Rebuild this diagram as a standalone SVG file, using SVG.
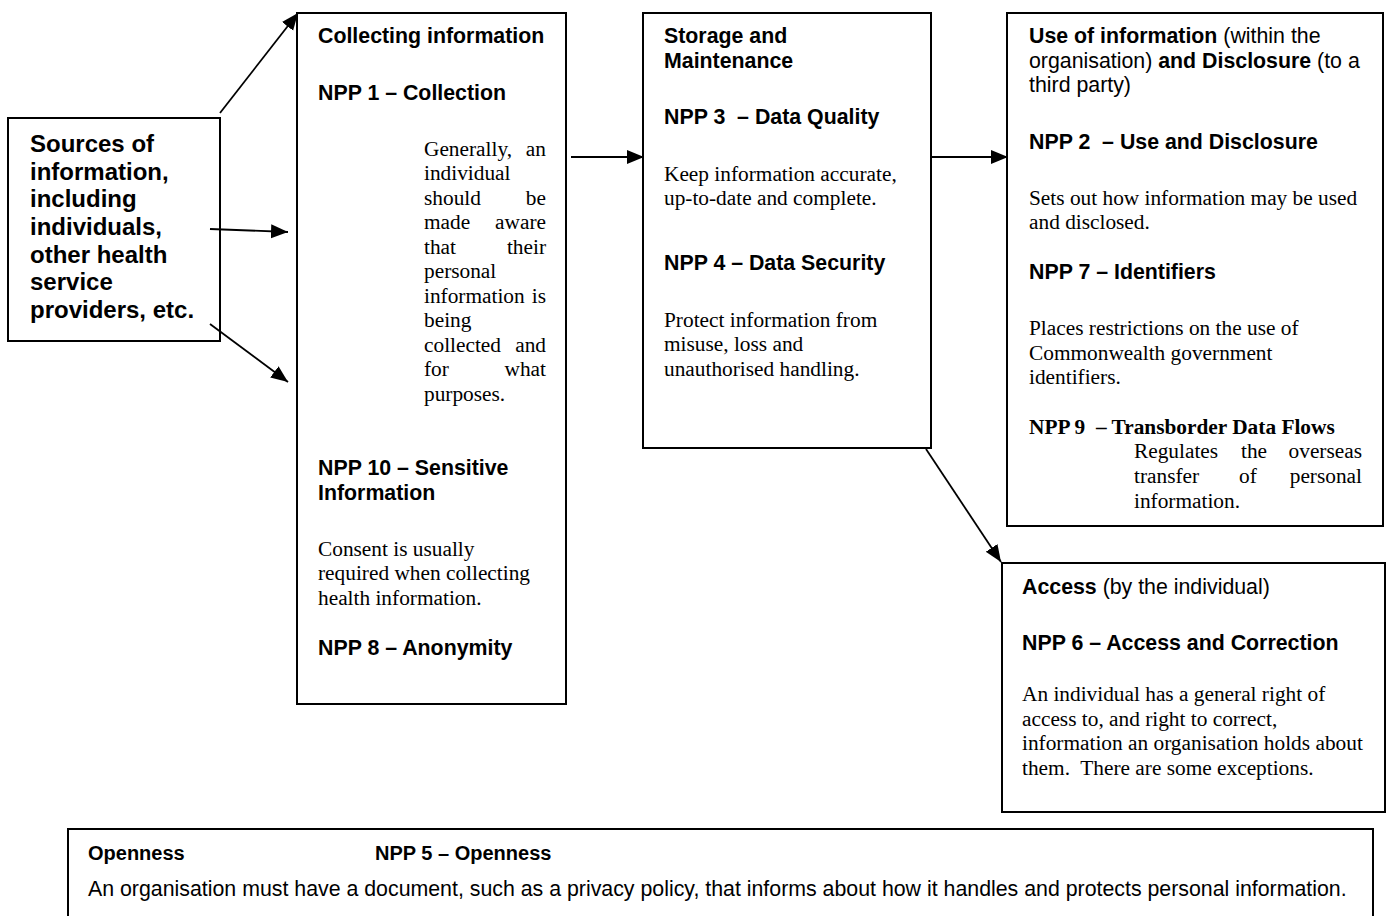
<svg xmlns="http://www.w3.org/2000/svg" width="1388" height="916" viewBox="0 0 1388 916">
<style>
.box{fill:#fff;stroke:#000;stroke-width:2}
.h{font-family:"Liberation Sans",Arial,sans-serif;font-weight:bold;font-size:21.33px;fill:#000}
.hn{font-family:"Liberation Sans",Arial,sans-serif;font-size:21.33px;fill:#000}
.b{font-weight:bold}
.n{font-weight:normal}
.t{font-family:"Liberation Serif","Times New Roman",serif;font-size:21.33px;fill:#000}
.tb{font-family:"Liberation Serif","Times New Roman",serif;font-size:21.33px;font-weight:bold;fill:#000}
.src{font-family:"Liberation Sans",Arial,sans-serif;font-weight:bold;font-size:24px;fill:#000}
.oh{font-family:"Liberation Sans",Arial,sans-serif;font-size:20px;font-weight:bold;fill:#000}
.o{font-family:"Liberation Sans",Arial,sans-serif;font-size:21.33px;fill:#000}
.e{text-anchor:end}
.m{text-anchor:middle}
.c{fill:none;stroke:#000;stroke-width:1.8}
</style>
<defs>
<marker id="arr" markerUnits="userSpaceOnUse" markerWidth="20" markerHeight="16" refX="17" refY="7" orient="auto">
<path d="M0,0 L17,7 L0,14 z" fill="#000"/>
</marker>
</defs>

<g id="sources">
<rect class="box" x="8" y="118" width="212" height="223"/>
<text class="src" x="30" y="152">Sources of</text>
<text class="src" x="30" y="180">information,</text>
<text class="src" x="30" y="207">including</text>
<text class="src" x="30" y="235">individuals,</text>
<text class="src" x="30" y="263">other health</text>
<text class="src" x="30" y="290">service</text>
<text class="src" x="30" y="318">providers, etc.</text>
</g>

<g id="collecting">
<rect class="box" x="297" y="13" width="269" height="691"/>
<text class="h" x="318" y="43">Collecting information</text>
<text class="h" x="318" y="100">NPP 1 – Collection</text>
<text class="t" x="424" y="156">Generally,</text><text class="t e" x="546" y="156">an</text>
<text class="t" x="424" y="180">individual</text>
<text class="t" x="424" y="205">should</text><text class="t e" x="546" y="205">be</text>
<text class="t" x="424" y="229">made</text><text class="t e" x="546" y="229">aware</text>
<text class="t" x="424" y="254">that</text><text class="t e" x="546" y="254">their</text>
<text class="t" x="424" y="278">personal</text>
<text class="t" x="424" y="303">information</text><text class="t e" x="546" y="303">is</text>
<text class="t" x="424" y="327">being</text>
<text class="t" x="424" y="352">collected</text><text class="t e" x="546" y="352">and</text>
<text class="t" x="424" y="376">for</text><text class="t e" x="546" y="376">what</text>
<text class="t" x="424" y="401">purposes.</text>
<text class="h" x="318" y="475">NPP 10 – Sensitive</text>
<text class="h" x="318" y="500">Information</text>
<text class="t" x="318" y="556">Consent is usually</text>
<text class="t" x="318" y="580">required when collecting</text>
<text class="t" x="318" y="605">health information.</text>
<text class="h" x="318" y="655">NPP 8 – Anonymity</text>
</g>

<g id="storage">
<rect class="box" x="643" y="13" width="288" height="435"/>
<text class="h" x="664" y="43">Storage and</text>
<text class="h" x="664" y="68">Maintenance</text>
<text class="h" x="664" y="124" xml:space="preserve">NPP 3  – Data Quality</text>
<text class="t" x="664" y="181">Keep information accurate,</text>
<text class="t" x="664" y="205">up-to-date and complete.</text>
<text class="h" x="664" y="270">NPP 4 – Data Security</text>
<text class="t" x="664" y="327">Protect information from</text>
<text class="t" x="664" y="351">misuse, loss and</text>
<text class="t" x="664" y="376">unauthorised handling.</text>
</g>

<g id="use">
<rect class="box" x="1007" y="13" width="376" height="513"/>
<text class="hn" x="1029" y="43"><tspan class="b">Use of information</tspan> (within the</text>
<text class="hn" x="1029" y="68">organisation) <tspan class="b">and Disclosure</tspan> (to a</text>
<text class="hn" x="1029" y="92">third party)</text>
<text class="h" x="1029" y="149" xml:space="preserve">NPP 2  – Use and Disclosure</text>
<text class="t" x="1029" y="205">Sets out how information may be used</text>
<text class="t" x="1029" y="229">and disclosed.</text>
<text class="h" x="1029" y="279">NPP 7 – Identifiers</text>
<text class="t" x="1029" y="335">Places restrictions on the use of</text>
<text class="t" x="1029" y="360">Commonwealth government</text>
<text class="t" x="1029" y="384">identifiers.</text>
<text class="tb" x="1029" y="434" xml:space="preserve">NPP 9  – Transborder Data Flows</text>
<text class="t" x="1134" y="458">Regulates</text><text class="t m" x="1254" y="458">the</text><text class="t e" x="1362" y="458">overseas</text>
<text class="t" x="1134" y="483">transfer</text><text class="t m" x="1248" y="483">of</text><text class="t e" x="1362" y="483">personal</text>
<text class="t" x="1134" y="508">information.</text>
</g>

<g id="access">
<rect class="box" x="1002" y="563" width="383" height="249"/>
<text class="hn" x="1022" y="594"><tspan class="b">Access</tspan> (by the individual)</text>
<text class="h" x="1022" y="650">NPP 6 – Access and Correction</text>
<text class="t" x="1022" y="701">An individual has a general right of</text>
<text class="t" x="1022" y="726">access to, and right to correct,</text>
<text class="t" x="1022" y="750">information an organisation holds about</text>
<text class="t" xml:space="preserve" x="1022" y="775">them.  There are some exceptions.</text>
</g>

<g id="openness">
<rect class="box" x="68" y="829" width="1305" height="100"/>
<text class="oh" x="88" y="860">Openness</text>
<text class="oh" x="375" y="860">NPP 5 – Openness</text>
<text class="o" x="88" y="896">An organisation must have a document, such as a privacy policy, that informs about how it handles and protects personal information.</text>
</g>

<g id="connectors">
<line class="c" x1="220" y1="113" x2="298" y2="13" marker-end="url(#arr)"/>
<line class="c" x1="210" y1="229" x2="288" y2="232" marker-end="url(#arr)"/>
<line class="c" x1="210" y1="324" x2="288" y2="382" marker-end="url(#arr)"/>
<line class="c" x1="571" y1="157" x2="644" y2="157" marker-end="url(#arr)"/>
<line class="c" x1="931" y1="157" x2="1008" y2="157" marker-end="url(#arr)"/>
<line class="c" x1="926" y1="449" x2="1001" y2="562" marker-end="url(#arr)"/>
</g>
</svg>
